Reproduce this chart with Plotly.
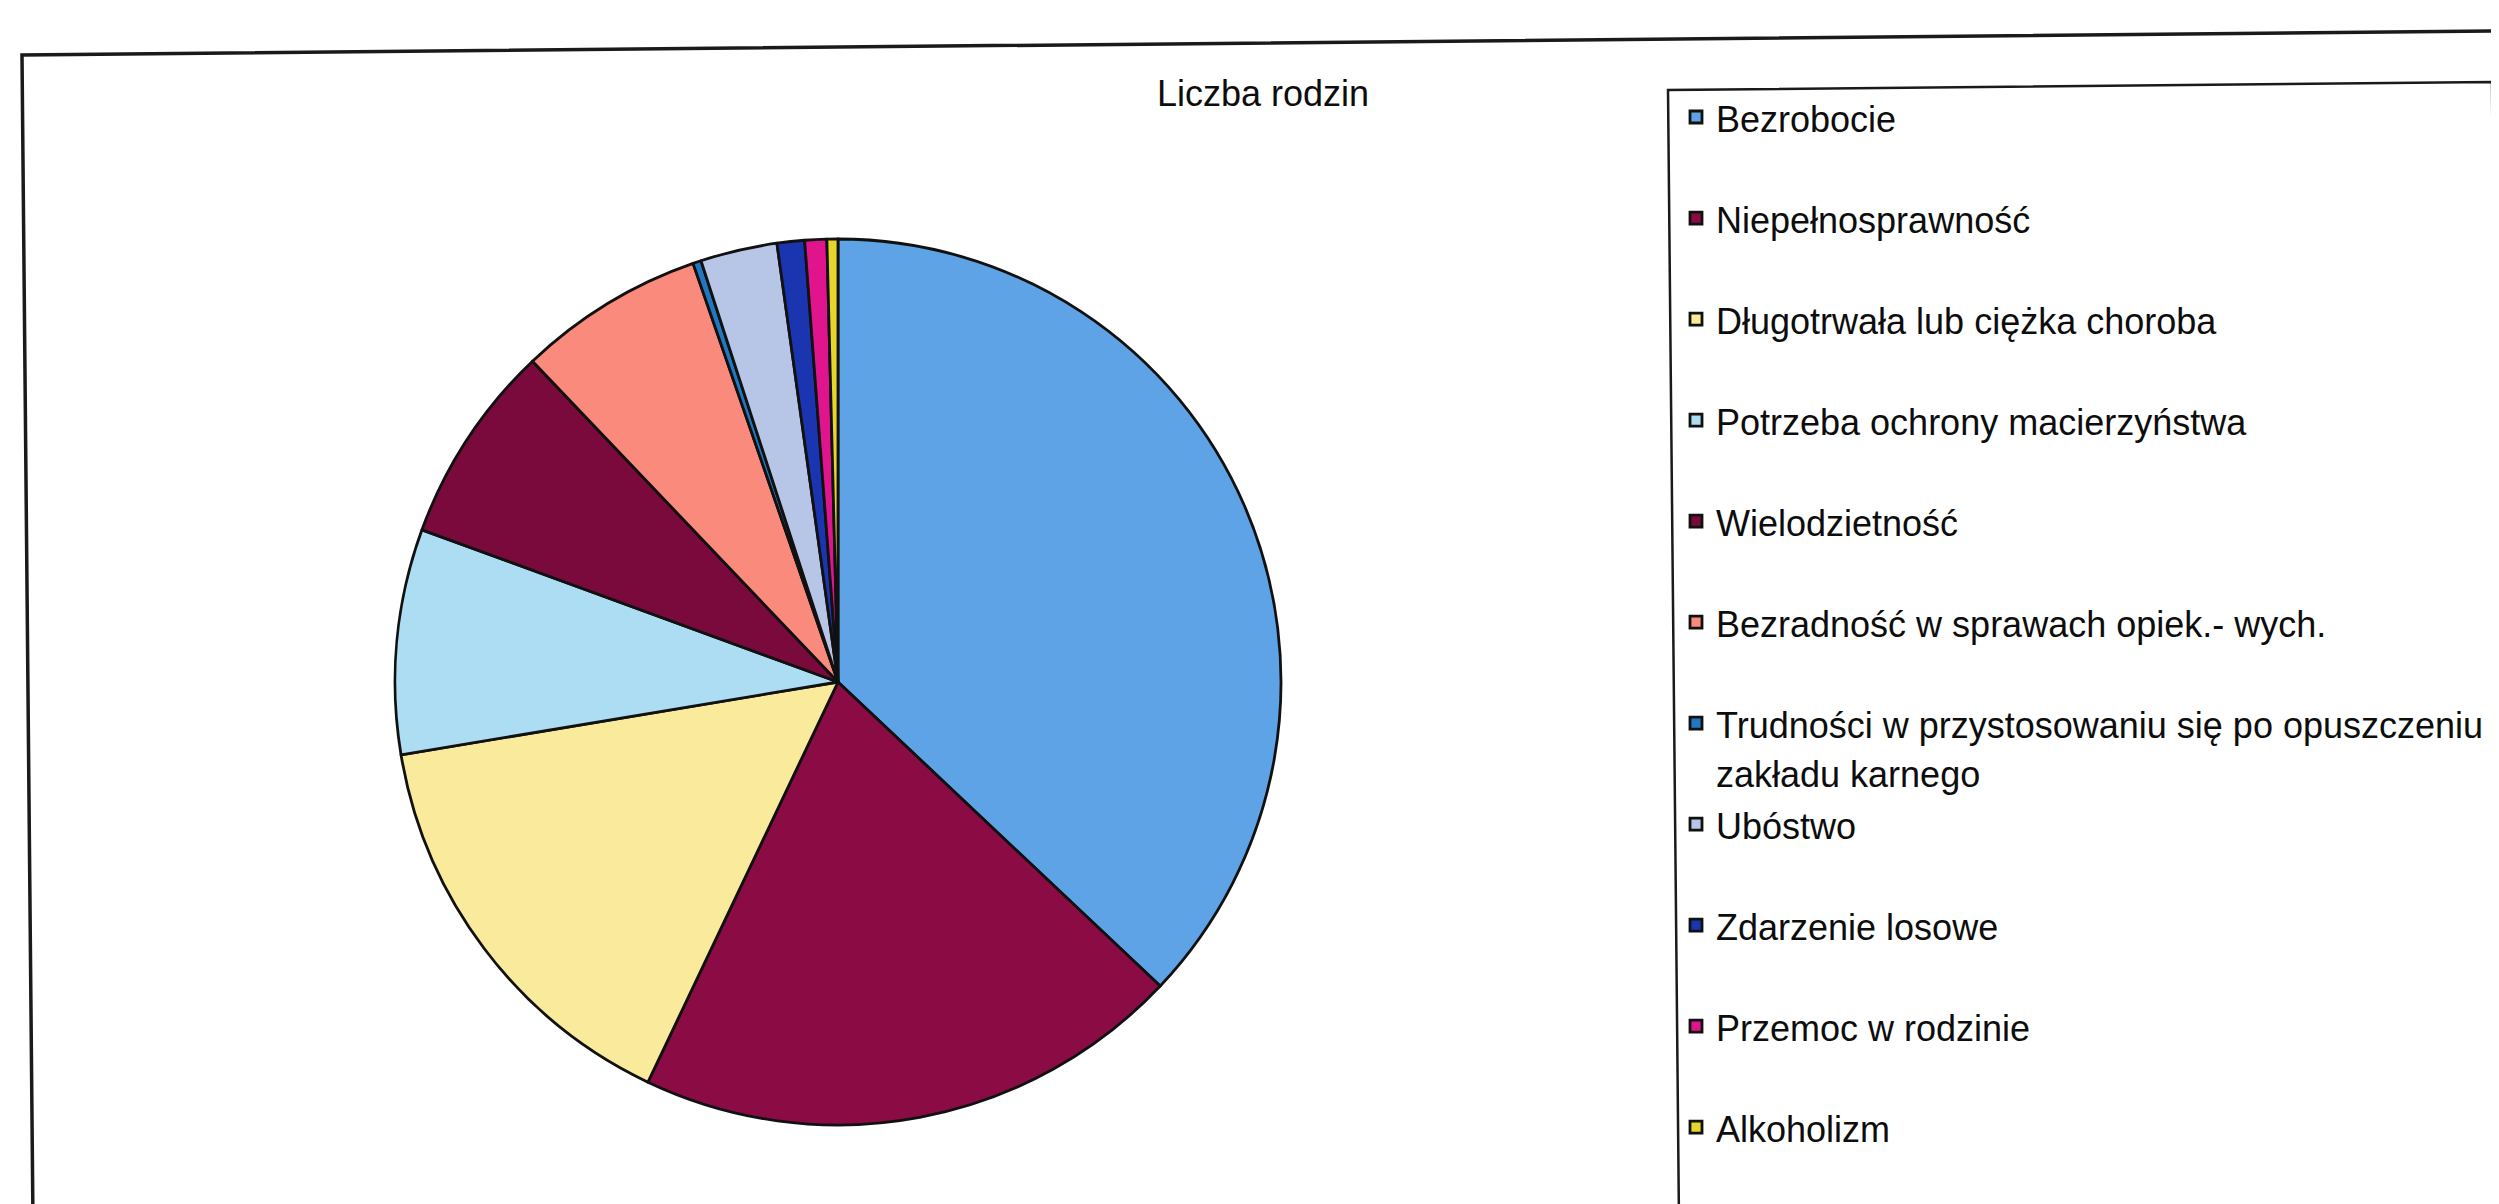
import plotly.graph_objects as go

# ---- data ----
categories = [
    "Bezrobocie",
    "Niepełnosprawność",
    "Długotrwała lub ciężka choroba",
    "Potrzeba ochrony macierzyństwa",
    "Wielodzietność",
    "Bezradność w sprawach opiek.- wych.",
    "Trudności w przystosowaniu się po opuszczeniu|zakładu karnego",
    "Ubóstwo",
    "Zdarzenie losowe",
    "Przemoc w rodzinie",
    "Alkoholizm",
]
values = [370, 200, 153, 82, 73, 68, 3, 28, 10, 8, 4]
colors = [
    "#5DA3E6", "#8B0B45", "#F9EB9B", "#ADDDF3", "#7A0A3C", "#F98A7C",
    "#1F78C0", "#B7C6E6", "#1B35B0", "#E0148C", "#E6D52A",
]
title_text = "Liczba rodzin"

W, H = 2499, 1204
cx, cy, r = 830, 674, 443
TXT = 36          # glyph size
LEG = 37.7        # legend line metric -> entry spacing ~101px

def px(x):
    return x / W

def py(y):
    return 1 - y / H

# every legend entry spans two lines (second blank unless the label wraps)
labels = []
for c in categories:
    parts = c.split("|")
    while len(parts) < 2:
        parts.append("\u00a0")
    labels.append("<br>".join(
        f"<span style='font-size:{TXT}px'>{p}</span>" for p in parts))

fig = go.Figure(
    go.Pie(
        labels=labels,
        values=values,
        sort=False,
        direction="clockwise",
        rotation=0,
        textinfo="none",
        hoverinfo="value+percent",
        marker=dict(colors=colors, line=dict(color="#111111", width=2.8)),
        domain=dict(
            x=[(cx - r) / W, (cx + r) / W],
            y=[(H - cy - r) / H, (H - cy + r) / H],
        ),
    )
)

def path(points):
    return "M " + " L ".join(f"{px(x):.5f},{py(y):.5f}" for x, y in points)

outer = path([(25, 1215), (14, 47), (2495, 23), (2499, 1215)])
legbox = path([(1671, 1215), (1660, 82), (2484, 74), (2492, 1215)])

fig.update_layout(
    width=W,
    height=H,
    margin=dict(l=0, r=0, t=0, b=0),
    paper_bgcolor="white",
    plot_bgcolor="white",
    font=dict(family="Liberation Sans, Arial, sans-serif", size=TXT, color="#0d0d0d"),
    title=dict(
        text=title_text,
        x=px(1255),
        xanchor="center",
        y=py(85),
        yanchor="middle",
        font=dict(size=TXT, color="#0d0d0d"),
    ),
    legend=dict(
        x=px(1668),
        xanchor="left",
        y=py(78),
        yanchor="top",
        valign="top",
        bgcolor="rgba(0,0,0,0)",
        borderwidth=0,
        font=dict(size=LEG),
        traceorder="normal",
    ),
    shapes=[
        dict(type="path", xref="paper", yref="paper", path=outer,
             line=dict(color="#1a1a1a", width=3.5)),
        dict(type="path", xref="paper", yref="paper", path=legbox,
             line=dict(color="#1a1a1a", width=2.5)),
    ],
)

fig.write_html("out.html")
